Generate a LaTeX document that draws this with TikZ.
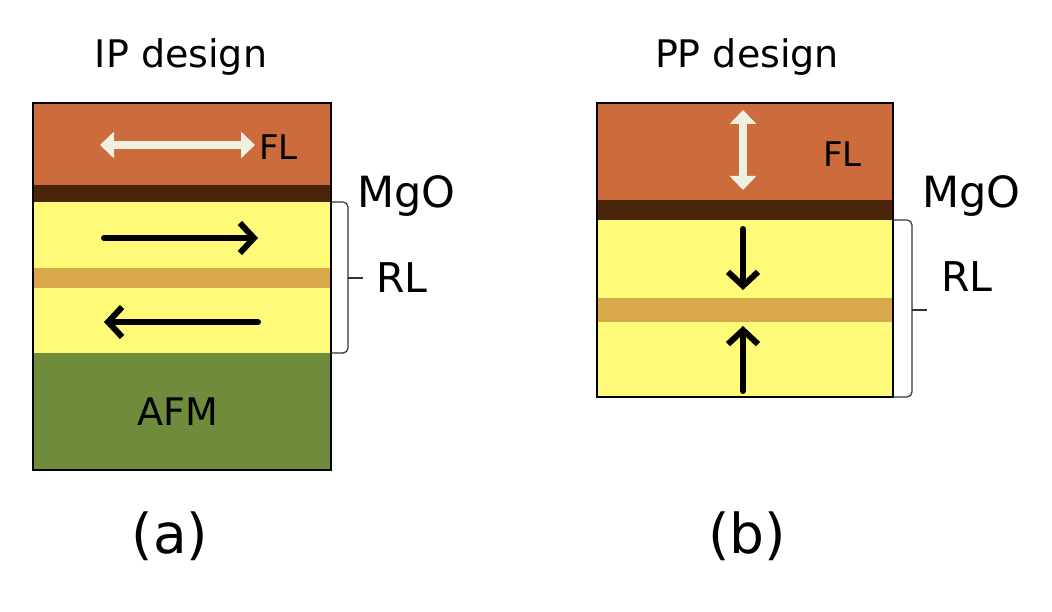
\documentclass[tikz,border=0pt]{standalone}
\usepackage{fontspec}
\setmainfont{DejaVu Sans}
\usetikzlibrary{arrows.meta}
\definecolor{florange}{HTML}{CC6B3C}
\definecolor{mgobrown}{HTML}{4A2408}
\definecolor{rlyellow}{HTML}{FFFB78}
\definecolor{spacertan}{HTML}{D9A84A}
\definecolor{afmgreen}{HTML}{6E8C3C}
\definecolor{whitearrow}{HTML}{EEF0E2}
\begin{document}
\begin{tikzpicture}[x=1pt,y=-1pt,
  lbl/.style={inner sep=0pt,text=black},
  frame/.style={draw=black,line width=2.5pt},
  magblack/.style={line width=6pt,-{Straight Barb[length=14pt,width=30pt,line width=6pt]},line cap=round},
  magwhite/.style={line width=8pt,whitearrow,{Triangle[length=14pt,width=26pt]}-{Triangle[length=14pt,width=26pt]}},
  bracket/.style={draw=black!80,line width=1.2pt,rounded corners=5pt}]
\useasboundingbox (0,0) rectangle (1052,612);
\fill[white] (0,0) rectangle (1052,612);
% ---------- (a) IP design ----------
\fill[florange] (33,103) rectangle (331,185);
\fill[mgobrown] (33,185) rectangle (331,202);
\fill[rlyellow] (33,202) rectangle (331,268);
\fill[spacertan] (33,268) rectangle (331,288);
\fill[rlyellow] (33,288) rectangle (331,353);
\fill[afmgreen] (33,353) rectangle (331,470);
\draw[frame] (33,103) rectangle (331,470);
\coordinate (wa1) at (100,145); \coordinate (wa2) at (255,145);
\draw[magwhite] (wa1) -- (wa2);
\coordinate (ba1) at (104,238); \coordinate (ba2) at (258,238);
\draw[magblack] (ba1) -- (ba2);
\coordinate (bb1) at (258,322); \coordinate (bb2) at (104,322);
\draw[magblack] (bb1) -- (bb2);
\draw[bracket] (331,202) -- (348,202) -- (348,353) -- (331,353);
\draw[draw=black!80,line width=1.2pt] (348,278) -- (363,278);
\node[lbl,anchor=base] (titleA) at (181,68) {\fontsize{38}{40}\selectfont IP design};
\node[lbl,anchor=base west] (flA) at (259,160) {\fontsize{34}{36}\selectfont FL};
\node[lbl,anchor=base west] (mgoA) at (357,208) {\fontsize{43}{45}\selectfont MgO};
\node[lbl,anchor=base west] (rlA) at (376,293) {\fontsize{41}{43}\selectfont RL};
\node[lbl,anchor=base] (afm) at (178,425) {\fontsize{38}{40}\selectfont AFM};
\node[lbl,anchor=base] (capA) at (170,553) {\fontsize{55}{58}\selectfont (a)};
% ---------- (b) PP design ----------
\fill[florange] (597,103) rectangle (893,200);
\fill[mgobrown] (597,200) rectangle (893,220);
\fill[rlyellow] (597,220) rectangle (893,298);
\fill[spacertan] (597,298) rectangle (893,322);
\fill[rlyellow] (597,322) rectangle (893,397);
\draw[frame] (597,103) rectangle (893,397);
\coordinate (wb1) at (743,110); \coordinate (wb2) at (743,190);
\draw[magwhite] (wb1) -- (wb2);
\coordinate (bc1) at (743,229); \coordinate (bc2) at (743,290);
\draw[magblack] (bc1) -- (bc2);
\coordinate (bd1) at (743,391); \coordinate (bd2) at (743,326);
\draw[magblack] (bd1) -- (bd2);
\draw[bracket] (893,220) -- (912,220) -- (912,397) -- (893,397);
\draw[draw=black!80,line width=1.2pt] (912,310) -- (927,310);
\node[lbl,anchor=base] (titleB) at (747,68) {\fontsize{38}{40}\selectfont PP design};
\node[lbl,anchor=base west] (flB) at (823,167) {\fontsize{34}{36}\selectfont FL};
\node[lbl,anchor=base west] (mgoB) at (922,208) {\fontsize{43}{45}\selectfont MgO};
\node[lbl,anchor=base west] (rlB) at (941,292) {\fontsize{41}{43}\selectfont RL};
\node[lbl,anchor=base] (capB) at (747,553) {\fontsize{55}{58}\selectfont (b)};
\end{tikzpicture}
\end{document}
